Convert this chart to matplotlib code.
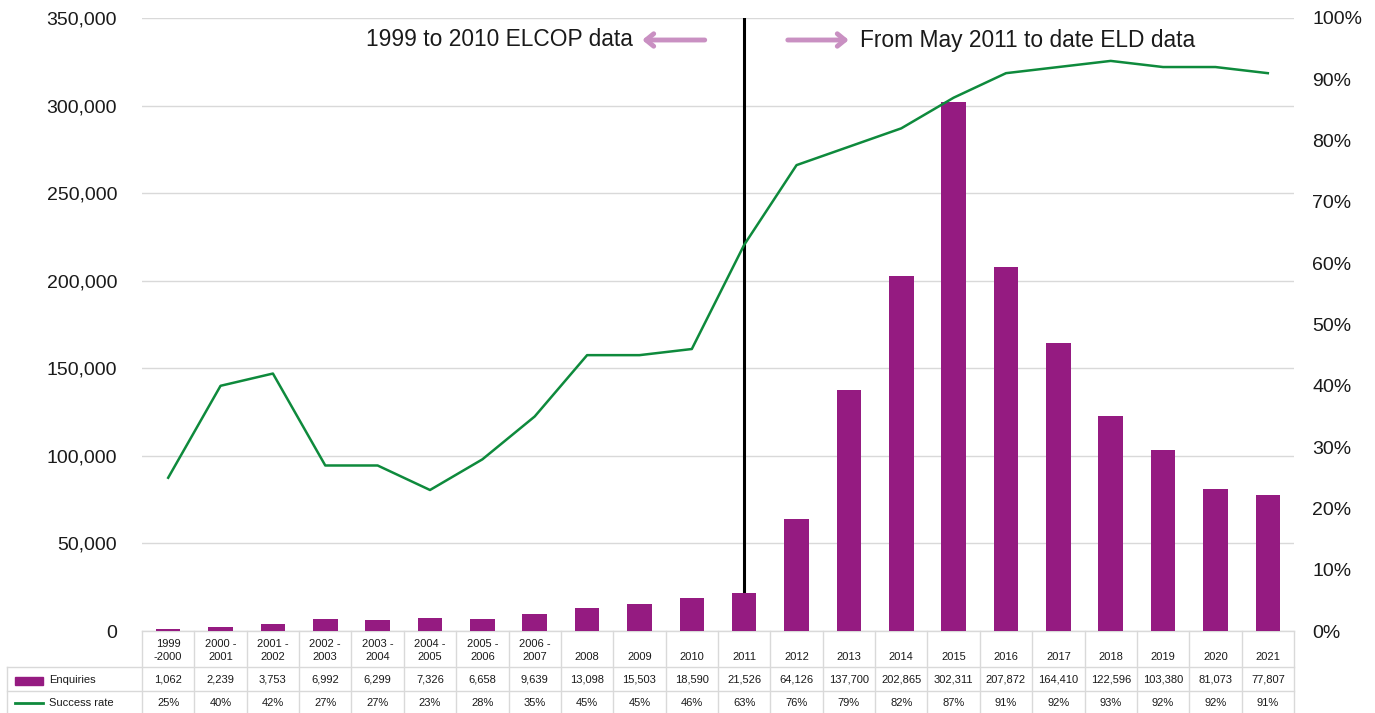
import matplotlib
matplotlib.use("Agg")
import matplotlib.pyplot as plt
from matplotlib.lines import Line2D
from matplotlib.patches import Rectangle
from matplotlib.transforms import blended_transform_factory

plt.rcParams['font.family'] = ['Liberation Sans', 'DejaVu Sans']

categories = ["1999\n-2000", "2000 -\n2001", "2001 -\n2002", "2002 -\n2003", "2003 -\n2004",
              "2004 -\n2005", "2005 -\n2006", "2006 -\n2007", "2008", "2009", "2010", "2011",
              "2012", "2013", "2014", "2015", "2016", "2017", "2018", "2019", "2020", "2021"]
enquiries = [1062, 2239, 3753, 6992, 6299, 7326, 6658, 9639, 13098, 15503, 18590, 21526,
             64126, 137700, 202865, 302311, 207872, 164410, 122596, 103380, 81073, 77807]
success_pct = [25, 40, 42, 27, 27, 23, 28, 35, 45, 45, 46, 63, 76, 79, 82, 87, 91, 92, 93, 92, 92, 91]
left_ticks = list(range(0, 350001, 50000))
right_ticks = list(range(0, 101, 10))
divider_category = "2011"

BAR = '#951B81'
LINE = '#0E8A3C'
GRID = '#D9D9D9'
ARROW = '#C990C2'
TXT = '#1a1a1a'

W, H = 1375, 713
fig = plt.figure(figsize=(W / 100, H / 100), dpi=100)
L, R, T, B = 142, 1294, 18, 631
ax = fig.add_axes([L / W, 1 - B / H, (R - L) / W, (B - T) / H])
ax2 = ax.twinx()

x = list(range(len(categories)))
ax.bar(x, enquiries, width=0.47, color=BAR, zorder=3)
ax.set_xlim(-0.5, len(categories) - 0.5)
ax.set_ylim(0, 350000)
ax.set_yticks(left_ticks)
ax.set_yticklabels([f"{v:,}" for v in left_ticks])
ax.tick_params(axis='y', length=0, pad=18, labelsize=14, labelcolor=TXT)
ax.set_xticks([])
ax.grid(axis='y', color=GRID, lw=1, zorder=0)
ax.set_axisbelow(True)
for s in ['top', 'left', 'right']:
    ax.spines[s].set_visible(False)
ax.spines['bottom'].set_color(GRID)
ax.spines['bottom'].set_linewidth(1)

ax.axvline(categories.index(divider_category), color='black', lw=2.2, zorder=2)

ax2.plot(x, [v / 100 for v in success_pct], color=LINE, lw=1.8, zorder=4)
ax2.set_ylim(0, 1)
ax2.set_yticks([v / 100 for v in right_ticks])
ax2.set_yticklabels([f"{v}%" for v in right_ticks])
ax2.tick_params(axis='y', length=0, pad=13, labelsize=14, labelcolor=TXT)
for s in ax2.spines.values():
    s.set_visible(False)

# annotations
ta = ('data', 'axes fraction')
ya = (B - 40) / (B - T)
bta = blended_transform_factory(ax.transData, ax.transAxes)
ax.text(8.88, ya, "1999 to 2010 ELCOP data", ha='right', va='center', fontsize=16.4,
        color=TXT, transform=bta)
ax.text(13.21, ya, "From May 2011 to date ELD data", ha='left', va='center', fontsize=16.4,
        color=TXT, transform=bta)
ax.annotate("", xy=(9.0, ya), xytext=(10.3, ya), xycoords=ta, textcoords=ta,
            arrowprops=dict(arrowstyle='->,head_length=0.55,head_width=0.45', color=ARROW, lw=3.5))
ax.annotate("", xy=(13.05, ya), xytext=(11.78, ya), xycoords=ta, textcoords=ta,
            arrowprops=dict(arrowstyle='->,head_length=0.55,head_width=0.45', color=ARROW, lw=3.5))

# data table
bt = blended_transform_factory(ax.transData, fig.transFigure)
def fy(py):
    return 1 - py / H
def fx(px):
    return px / W

n = len(categories)
for i in range(n + 1):
    fig.add_artist(Line2D([i - 0.5, i - 0.5], [fy(B), fy(H + 2)], transform=bt, color=GRID, lw=1))
for py in (667, 691):
    fig.add_artist(Line2D([fx(7), fx(R)], [fy(py), fy(py)], transform=fig.transFigure, color=GRID, lw=1))
fig.add_artist(Line2D([fx(7), fx(7)], [fy(667), fy(H + 2)], transform=fig.transFigure, color=GRID, lw=1))

fs = 8
for i, c in enumerate(categories):
    fig.text(i, fy(662), c, transform=bt, ha='center', va='bottom', fontsize=fs,
             color=TXT, linespacing=1.4, multialignment='center')
    fig.text(i, fy(680), f"{enquiries[i]:,}", transform=bt, ha='center', va='center', fontsize=fs, color=TXT)
    fig.text(i, fy(703), f"{success_pct[i]}%", transform=bt, ha='center', va='center', fontsize=fs, color=TXT)

fig.add_artist(Rectangle((fx(15), fy(685)), fx(43) - fx(15), fy(677) - fy(685),
                         transform=fig.transFigure, color=BAR))
fig.text(fx(49), fy(680), "Enquiries", ha='left', va='center', fontsize=fs, color=TXT)
fig.add_artist(Line2D([fx(15), fx(43)], [fy(703), fy(703)], transform=fig.transFigure, color=LINE, lw=2))
fig.text(fx(49), fy(703), "Success rate", ha='left', va='center', fontsize=fs, color=TXT)

fig.savefig("out.png", dpi=100)
